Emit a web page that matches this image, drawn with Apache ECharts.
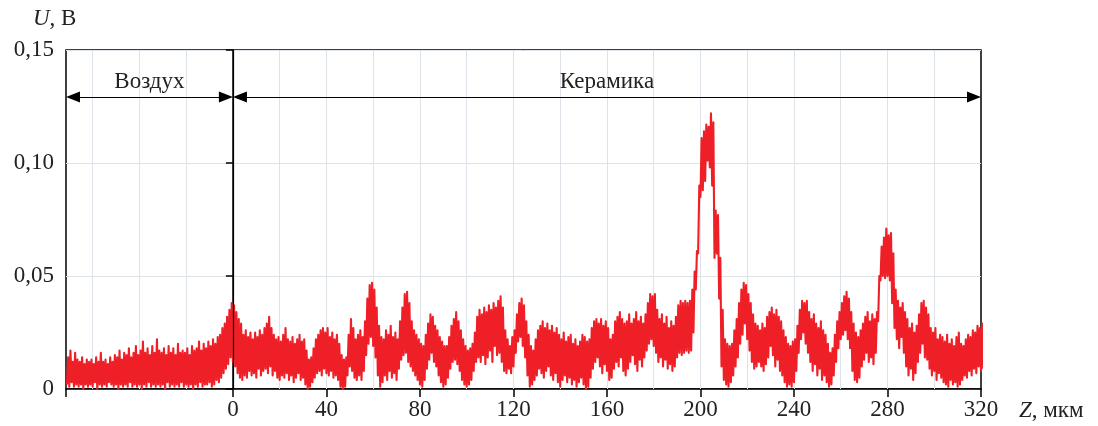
<!DOCTYPE html>
<html>
<head>
<meta charset="utf-8">
<script src="https://cdn.jsdelivr.net/npm/echarts@6/dist/echarts.min.js"></script>
<style>
html,body{margin:0;padding:0;background:#fff;}
#chart{width:1098px;height:426px;}
</style>
</head>
<body>
<div id="chart"></div>
<script>
// Measured signal U (V), sampled every 0.5 µm starting at Z = -71 µm
var zStart = -71;
var zStep = 0.5;
var signalU = [
0.002,0.014,0.001,0.017,0.003,0.012,0.001,0.016,0.002,0.013,
0.001,0.012,0.002,0.014,0.000,0.011,0.002,0.013,0.001,0.012,
0.002,0.013,0.001,0.011,0.003,0.014,0.000,0.012,0.002,0.016,
0.001,0.012,0.002,0.013,0.001,0.011,0.003,0.014,0.002,0.012,
0.001,0.015,0.002,0.014,0.000,0.017,0.002,0.013,0.001,0.016,
0.002,0.015,0.001,0.018,0.003,0.014,0.001,0.016,0.002,0.019,
0.001,0.015,0.002,0.017,0.000,0.021,0.002,0.016,0.001,0.018,
0.003,0.015,0.001,0.019,0.002,0.016,0.001,0.022,0.002,0.017,
0.001,0.016,0.002,0.018,0.000,0.015,0.003,0.019,0.001,0.016,
0.002,0.018,0.001,0.015,0.002,0.020,0.001,0.016,0.003,0.017,
0.001,0.016,0.002,0.018,0.001,0.015,0.002,0.019,0.000,0.017,
0.002,0.018,0.001,0.021,0.003,0.017,0.001,0.020,0.002,0.018,
0.002,0.021,0.003,0.019,0.001,0.022,0.002,0.020,0.004,0.023,
0.003,0.024,0.005,0.027,0.007,0.029,0.009,0.032,0.011,0.035,
0.014,0.038,0.012,0.037,0.010,0.034,0.007,0.031,0.005,0.029,
0.004,0.024,0.006,0.026,0.005,0.023,0.008,0.025,0.006,0.022,
0.007,0.025,0.005,0.023,0.009,0.026,0.006,0.024,0.008,0.027,
0.009,0.029,0.007,0.032,0.010,0.027,0.006,0.024,0.008,0.022,
0.005,0.023,0.004,0.021,0.006,0.024,0.005,0.027,0.007,0.022,
0.004,0.021,0.006,0.023,0.003,0.020,0.005,0.022,0.007,0.024,
0.004,0.021,0.005,0.022,0.002,0.017,0.000,0.013,0.001,0.014,
0.003,0.018,0.005,0.022,0.007,0.024,0.008,0.026,0.006,0.027,
0.009,0.025,0.007,0.027,0.006,0.023,0.008,0.025,0.005,0.022,
0.006,0.024,0.004,0.020,0.001,0.015,0.000,0.013,0.001,0.014,
0.006,0.024,0.010,0.031,0.008,0.027,0.005,0.022,0.004,0.024,
0.006,0.026,0.004,0.023,0.008,0.030,0.015,0.040,0.020,0.046,
0.023,0.047,0.019,0.044,0.014,0.036,0.006,0.028,0.001,0.023,
0.003,0.022,0.006,0.026,0.004,0.024,0.008,0.028,0.005,0.023,
0.007,0.025,0.004,0.022,0.009,0.030,0.013,0.036,0.015,0.042,
0.016,0.043,0.012,0.038,0.010,0.030,0.008,0.026,0.006,0.024,
0.004,0.022,0.002,0.020,0.001,0.019,0.004,0.024,0.009,0.029,
0.013,0.033,0.016,0.032,0.012,0.028,0.010,0.026,0.006,0.023,
0.003,0.021,0.001,0.019,0.002,0.019,0.005,0.023,0.009,0.028,
0.012,0.031,0.013,0.034,0.011,0.030,0.008,0.026,0.004,0.022,
0.002,0.019,0.001,0.017,0.002,0.018,0.004,0.020,0.008,0.025,
0.012,0.032,0.014,0.035,0.012,0.033,0.015,0.036,0.011,0.034,
0.014,0.037,0.017,0.035,0.012,0.038,0.019,0.036,0.015,0.039,
0.016,0.041,0.012,0.036,0.008,0.026,0.007,0.022,0.009,0.019,
0.007,0.023,0.010,0.026,0.016,0.033,0.021,0.038,0.023,0.040,
0.019,0.037,0.014,0.030,0.006,0.024,0.001,0.019,0.002,0.017,
0.004,0.022,0.006,0.026,0.009,0.028,0.007,0.030,0.005,0.027,
0.008,0.029,0.010,0.026,0.006,0.028,0.004,0.025,0.007,0.027,
0.003,0.024,0.001,0.022,0.004,0.025,0.006,0.021,0.003,0.023,
0.005,0.024,0.002,0.020,0.004,0.022,0.001,0.019,0.003,0.021,
0.005,0.024,0.002,0.023,0.000,0.021,0.001,0.022,0.005,0.027,
0.009,0.030,0.012,0.031,0.014,0.029,0.010,0.031,0.007,0.028,
0.011,0.030,0.008,0.027,0.004,0.022,0.005,0.024,0.009,0.030,
0.012,0.032,0.010,0.034,0.014,0.031,0.008,0.029,0.006,0.030,
0.009,0.033,0.012,0.029,0.015,0.031,0.011,0.034,0.008,0.030,
0.013,0.032,0.010,0.029,0.014,0.033,0.017,0.038,0.020,0.042,
0.022,0.041,0.019,0.042,0.016,0.035,0.012,0.031,0.014,0.033,
0.010,0.029,0.013,0.032,0.009,0.027,0.011,0.030,0.008,0.028,
0.010,0.032,0.014,0.037,0.016,0.039,0.015,0.038,0.016,0.039,
0.017,0.038,0.016,0.039,0.017,0.044,0.025,0.052,0.044,0.061,
0.060,0.090,0.085,0.111,0.088,0.114,0.092,0.117,0.101,0.116,
0.098,0.122,0.090,0.118,0.058,0.079,0.060,0.077,0.040,0.058,
0.010,0.035,0.004,0.022,0.002,0.020,0.001,0.019,0.003,0.020,
0.006,0.026,0.010,0.031,0.014,0.038,0.020,0.044,0.024,0.047,
0.029,0.046,0.022,0.042,0.017,0.038,0.012,0.033,0.009,0.029,
0.010,0.028,0.012,0.026,0.010,0.029,0.008,0.027,0.011,0.032,
0.014,0.034,0.019,0.036,0.015,0.033,0.010,0.035,0.013,0.032,
0.008,0.030,0.006,0.026,0.003,0.023,0.001,0.020,0.002,0.019,
0.001,0.021,0.003,0.022,0.008,0.028,0.016,0.035,0.022,0.039,
0.025,0.038,0.020,0.039,0.016,0.034,0.012,0.031,0.008,0.033,
0.011,0.029,0.006,0.027,0.009,0.030,0.004,0.026,0.006,0.024,
0.003,0.020,0.001,0.016,0.002,0.018,0.006,0.024,0.012,0.030,
0.018,0.034,0.022,0.038,0.024,0.041,0.026,0.043,0.022,0.040,
0.018,0.034,0.008,0.029,0.004,0.025,0.003,0.023,0.005,0.026,
0.010,0.029,0.013,0.032,0.016,0.034,0.012,0.030,0.014,0.033,
0.011,0.031,0.016,0.034,0.030,0.050,0.048,0.063,0.050,0.067,
0.049,0.071,0.050,0.068,0.048,0.069,0.038,0.060,0.027,0.044,
0.022,0.039,0.018,0.036,0.023,0.038,0.016,0.034,0.010,0.031,
0.006,0.027,0.009,0.029,0.004,0.025,0.007,0.028,0.012,0.033,
0.016,0.038,0.020,0.039,0.014,0.036,0.013,0.033,0.009,0.027,
0.006,0.025,0.008,0.027,0.004,0.022,0.007,0.024,0.005,0.023,
0.003,0.021,0.002,0.024,0.001,0.020,0.004,0.022,0.002,0.019,
0.003,0.023,0.001,0.025,0.002,0.020,0.004,0.019,0.006,0.022,
0.005,0.024,0.008,0.023,0.006,0.026,0.009,0.025,0.007,0.028,
0.010,0.027,0.008,0.029,0.009
];

// Axes
var zMin = -71.4, zMax = 320;
var xTickLabels = [0, 40, 80, 120, 160, 200, 240, 280, 320];
var xTickMarks = [-71.4, 0, 40, 80, 120, 160, 200, 240, 280, 320];
var xGridLines = [-60, -40, -20, 20, 40, 60, 80, 100, 120, 140, 160, 180, 200, 220, 240, 260, 280, 300];
var yMin = 0, yMax = 0.15, yStep = 0.05;
var yTickLabels = ['0', '0,05', '0,10', '0,15'];

// Region annotations (double arrows above the signal)
var regionArrowU = 0.1292;
var arrowInsetZ = 3.0;   // half arrow-head length, so the tips land on the boundaries
var regions = [
  { name: 'Воздух', from: -71.4, to: 0 },
  { name: 'Керамика', from: 0, to: 320 }
];
var boundaryZ = 0;

var FONT = 'Liberation Serif';
var FS = 23;
var pts = signalU.map(function (v, i) { return [zStart + i * zStep, v]; });

var chart = echarts.init(document.getElementById('chart'), null, { renderer: 'canvas' });
chart.setOption({
  animation: false,
  backgroundColor: '#fff',
  grid: { left: 66, right: 117, top: 50, bottom: 37, show: true, borderColor: '#000', borderWidth: 1.5, backgroundColor: 'transparent' },
  graphic: [
    {
      type: 'text', left: 33, top: 7, silent: true,
      style: {
        text: '{i|U}, В', fill: '#222', font: FS + 'px "' + FONT + '"',
        rich: { i: { fontFamily: FONT, fontStyle: 'italic', fontSize: FS, fill: '#222' } }
      }
    }
  ],
  xAxis: {
    type: 'value', min: zMin, max: zMax,
    name: '{i|Z}, мкм', nameLocation: 'end', nameGap: 38,
    nameTextStyle: { fontFamily: FONT, fontSize: FS, color: '#222', verticalAlign: 'top', padding: [10, 0, 0, 0],
      rich: { i: { fontFamily: FONT, fontStyle: 'italic', fontSize: FS, color: '#222' } } },
    axisLine: { show: true, onZero: false, lineStyle: { color: '#000', width: 1.5 } },
    axisTick: { show: true, inside: false, length: 8, customValues: xTickMarks, lineStyle: { color: '#000', width: 1.5 } },
    axisLabel: { show: true, customValues: xTickLabels, margin: 9, fontFamily: FONT, fontSize: FS, color: '#222',
      formatter: function (v) { return String(v); } },
    splitLine: { show: false }
  },
  yAxis: {
    type: 'value', min: yMin, max: yMax, interval: yStep,
    axisLine: { show: true, lineStyle: { color: '#000', width: 1.5 } },
    axisTick: { show: true, inside: false, length: 7, lineStyle: { color: '#000', width: 1.5 } },
    axisLabel: { margin: 12, fontFamily: FONT, fontSize: FS, color: '#222',
      formatter: function (v) { return yTickLabels[Math.round(v / yStep)]; } },
    splitLine: { show: true, lineStyle: { color: '#dde3e8', width: 1 } }
  },
  series: [
    {
      type: 'line', data: [], z: 1, silent: true,
      markLine: {
        z: 1, silent: true, symbol: 'none', animation: false,
        label: { show: false },
        lineStyle: { color: '#dde3e8', width: 1, type: 'solid' },
        data: xGridLines.map(function (z) { return { xAxis: z }; })
      }
    },
    {
      type: 'line', data: pts, z: 3, silent: true,
      showSymbol: false, symbol: 'none', sampling: false,
      lineStyle: { color: '#ee1f26', width: 2.1, join: 'round' }
    },
    {
      type: 'line', data: [], z: 6, silent: true,
      markLine: {
        z: 6, silent: true, animation: false,
        symbol: ['triangle', 'triangle'], symbolSize: [11, 14],
        lineStyle: { color: '#000', width: 1.2, type: 'solid' },
        label: { show: true, position: 'middle', distance: 4, fontFamily: FONT, fontSize: FS, color: '#222',
          formatter: function (p) { return p.name; } },
        data: regions.map(function (r) {
          return [{ coord: [r.from + arrowInsetZ, regionArrowU], name: r.name }, { coord: [r.to - arrowInsetZ, regionArrowU] }];
        }).concat([[
          { xAxis: boundaryZ, yAxis: yMin, symbol: 'none', label: { show: false } },
          { xAxis: boundaryZ, yAxis: yMax, symbol: 'none' }
        ]])
      }
    }
  ]
});
</script>
</body>
</html>
